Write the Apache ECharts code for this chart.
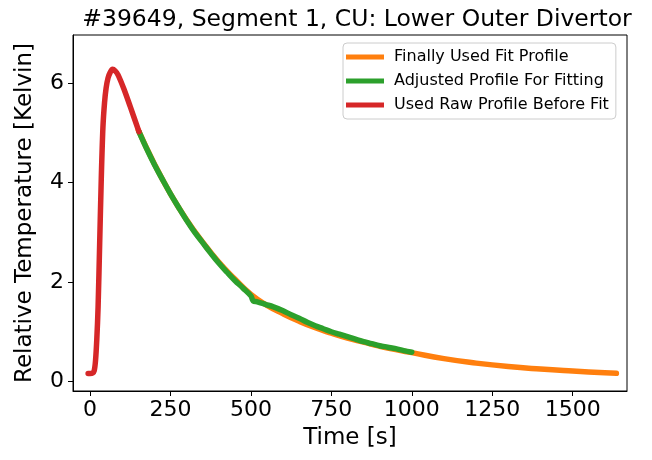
<!DOCTYPE html>
<html>
<head>
<meta charset="utf-8">
<script src="https://cdn.jsdelivr.net/npm/echarts@6/dist/echarts.min.js"></script>
<style>
  html, body { margin: 0; padding: 0; background: #fff; }
  #chart { width: 652px; height: 460px; }
</style>
</head>
<body>
<div id="chart"></div>
<script>
// values
const fitTime = [150, 200, 250, 300, 350, 400, 450, 500, 550, 600, 650, 700, 750, 800, 850, 900, 950, 1000, 1100, 1200, 1300, 1400, 1500, 1600, 1636]
const fitTemp = [5.05, 4.37, 3.77, 3.25, 2.80, 2.40, 2.06, 1.75, 1.53, 1.36, 1.21, 1.08, 0.97, 0.87, 0.79, 0.71, 0.64, 0.58, 0.46, 0.37, 0.30, 0.25, 0.21, 0.175, 0.165]

const adjTime = [152, 175, 200, 225, 250, 275, 300, 325, 350, 375, 400, 425, 450, 475, 500, 507, 520, 545, 570, 600, 625, 650, 675, 700, 725, 750, 775, 800, 825, 850, 875, 900, 925, 950, 975, 1000]
const adjTemp = [5.02, 4.69, 4.36, 4.06, 3.77, 3.50, 3.24, 3.00, 2.79, 2.58, 2.38, 2.20, 2.03, 1.88, 1.72, 1.62, 1.60, 1.55, 1.50, 1.42, 1.34, 1.27, 1.19, 1.12, 1.06, 1.00, 0.95, 0.90, 0.85, 0.80, 0.76, 0.72, 0.69, 0.66, 0.62, 0.59]

const rawTime = [-6, 0, 8, 13, 17, 21, 25, 30, 35, 40, 45, 50, 56, 62, 70, 78, 87, 105, 125, 152]
const rawTemp = [0.16, 0.16, 0.17, 0.22, 0.42, 0.85, 1.5, 2.8, 4.1, 5.1, 5.6, 5.9, 6.1, 6.2, 6.27, 6.24, 6.16, 5.88, 5.52, 5.02]

const xTicks = [0, 250, 500, 750, 1000, 1250, 1500]
const yTicks = [0, 2, 4, 6]

const pairs = (xs, ys) => xs.map((x, i) => [x, ys[i]])

const font = 'DejaVu Sans'
const chart = echarts.init(document.getElementById('chart'), null, { renderer: 'canvas' })

const line = (name, color, xs, ys, smooth) => ({
  name: name,
  type: 'line',
  data: pairs(xs, ys),
  showSymbol: false,
  smooth: smooth,
  lineStyle: { color: color, width: 5.5, cap: 'round', join: 'round' },
  itemStyle: { color: color }
})

chart.setOption({
  animation: false,
  backgroundColor: '#fff',
  textStyle: { fontFamily: font },
  title: {
    text: '#39649, Segment 1, CU: Lower Outer Divertor',
    left: 352,
    textAlign: 'center',
    top: 3,
    textStyle: { fontFamily: font, fontSize: 23.5, fontWeight: 'normal', color: '#000' }
  },
  grid: {
    left: 73, right: 25, top: 35, bottom: 69,
    show: true, borderColor: '#000', borderWidth: 1
  },
  legend: {
    orient: 'vertical',
    left: 343,
    top: 43,
    icon: 'rect',
    itemWidth: 38,
    itemHeight: 5,
    itemGap: 6,
    padding: [5, 7, 5, 3],
    backgroundColor: 'rgba(255,255,255,0.8)',
    borderColor: '#ccc',
    borderWidth: 1,
    borderRadius: 4,
    textStyle: { fontFamily: font, fontSize: 16, color: '#000', padding: [0, 0, 0, 5], lineHeight: 18 },
    data: ['Finally Used Fit Profile', 'Adjusted Profile For Fitting', 'Used Raw Profile Before Fit']
  },
  xAxis: {
    type: 'value',
    min: -53,
    max: 1669,
    name: 'Time [s]',
    nameLocation: 'middle',
    nameGap: 36,
    nameTextStyle: { fontFamily: font, fontSize: 23, color: '#000' },
    axisLine: { onZero: false, lineStyle: { color: '#000' } },
    axisTick: { customValues: xTicks, length: 5, lineStyle: { color: '#000' } },
    axisLabel: { customValues: xTicks, formatter: v => String(v), margin: 8, fontFamily: font, fontSize: 22, color: '#000' },
    splitLine: { show: false }
  },
  yAxis: {
    type: 'value',
    min: -0.19,
    max: 6.96,
    name: 'Relative Temperature [Kelvin]',
    nameLocation: 'middle',
    nameGap: 36,
    nameTextStyle: { fontFamily: font, fontSize: 23, color: '#000' },
    axisLine: { onZero: false, lineStyle: { color: '#000' } },
    axisTick: { customValues: yTicks, length: 5, lineStyle: { color: '#000' } },
    axisLabel: { customValues: yTicks, formatter: v => String(v), margin: 9, fontFamily: font, fontSize: 22, color: '#000' },
    splitLine: { show: false }
  },
  series: [
    line('Finally Used Fit Profile', '#ff7f0e', fitTime, fitTemp, 0.5),
    line('Adjusted Profile For Fitting', '#2ca02c', adjTime, adjTemp, 0.4),
    line('Used Raw Profile Before Fit', '#d62728', rawTime, rawTemp, 0.3)
  ]
})
</script>
</body>
</html>
